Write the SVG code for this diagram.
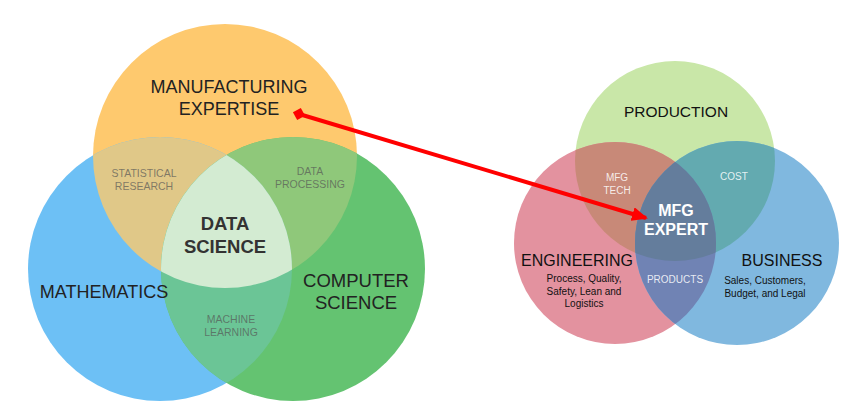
<svg xmlns="http://www.w3.org/2000/svg" width="857" height="414" viewBox="0 0 857 414">
<style>
text{font-family:"Liberation Sans",Arial,sans-serif;text-anchor:middle}
.big{font-size:18px;fill:#222}
.ds{font-size:18.5px;font-weight:bold;fill:#333}
.sm{font-size:10.5px;fill:#555;fill-opacity:0.7}
.rbig{font-size:16px;fill:#111}
.rsm{font-size:10px;fill:#111}
.rw{font-size:10px;fill:#fff;fill-opacity:0.85}
.rb{font-size:16px;font-weight:bold;fill:#fff}
</style>
<defs>
<clipPath id="cO"><circle cx="225" cy="156" r="132"/></clipPath>
<clipPath id="cB"><circle cx="160" cy="269" r="132"/></clipPath>
<clipPath id="cG"><circle cx="293" cy="269" r="132"/></clipPath>
<clipPath id="cP"><circle cx="675" cy="161" r="100"/></clipPath>
<clipPath id="cE"><circle cx="615" cy="243" r="101"/></clipPath>
<clipPath id="cU"><circle cx="737" cy="243" r="102"/></clipPath>
<marker id="ah" markerUnits="userSpaceOnUse" markerWidth="16" markerHeight="14" refX="14" refY="7" orient="auto">
<path d="M0,0 L16,7 L0,14 z" fill="#ff0000"/>
</marker>
<marker id="dm" markerUnits="userSpaceOnUse" markerWidth="12" markerHeight="12" refX="6" refY="6" orient="auto">
<rect x="1.5" y="1.5" width="9" height="9" fill="#ff0000" transform="rotate(45 6 6)"/>
</marker>
</defs>

<g id="left-venn">
<g id="manufacturing"><circle cx="225" cy="156" r="132" fill="#FEC96E"/></g>
<g id="mathematics"><circle cx="160" cy="269" r="132" fill="#6DC0F5"/></g>
<g id="computer-science"><circle cx="293" cy="269" r="132" fill="#64C371"/></g>
<g id="statistical-research"><circle cx="160" cy="269" r="132" fill="#E0C888" clip-path="url(#cO)"/></g>
<g id="data-processing"><circle cx="293" cy="269" r="132" fill="#8FC87A" clip-path="url(#cO)"/></g>
<g id="machine-learning"><circle cx="293" cy="269" r="132" fill="#6BC596" clip-path="url(#cB)"/></g>
<g id="data-science"><g clip-path="url(#cO)"><circle cx="293" cy="269" r="132" fill="#D3EBD2" clip-path="url(#cB)"/></g></g>
<text class="big" x="229" y="93">MANUFACTURING</text>
<text class="big" x="229" y="115">EXPERTISE</text>
<text class="sm" x="144" y="177">STATISTICAL</text>
<text class="sm" x="144" y="190">RESEARCH</text>
<text class="sm" x="310" y="175">DATA</text>
<text class="sm" x="310" y="188">PROCESSING</text>
<text class="ds" x="225" y="230">DATA</text>
<text class="ds" x="225" y="253">SCIENCE</text>
<text class="big" x="104" y="298">MATHEMATICS</text>
<text class="big" x="356" y="287" style="font-size:18.5px">COMPUTER</text>
<text class="big" x="356" y="309" style="font-size:18.5px">SCIENCE</text>
<text class="sm" x="231" y="323">MACHINE</text>
<text class="sm" x="231" y="336">LEARNING</text>
</g>

<g id="right-venn">
<g id="production"><circle cx="675" cy="161" r="100" fill="#C9E7A8"/></g>
<g id="engineering"><circle cx="615" cy="243" r="101" fill="#E3929F"/></g>
<g id="business"><circle cx="737" cy="243" r="102" fill="#80B8DF"/></g>
<g id="mfg-tech"><circle cx="615" cy="243" r="101" fill="#C88978" clip-path="url(#cP)"/></g>
<g id="cost"><circle cx="737" cy="243" r="102" fill="#63AAB0" clip-path="url(#cP)"/></g>
<g id="products"><circle cx="737" cy="243" r="102" fill="#7083B4" clip-path="url(#cE)"/></g>
<g id="mfg-expert"><g clip-path="url(#cP)"><circle cx="737" cy="243" r="102" fill="#647D9C" clip-path="url(#cE)"/></g></g>
<text class="rbig" x="676" y="117" style="font-size:15.5px">PRODUCTION</text>
<text class="rw" x="617" y="181">MFG</text>
<text class="rw" x="617" y="194">TECH</text>
<text class="rw" x="734" y="180">COST</text>
<text class="rb" x="676" y="216">MFG</text>
<text class="rb" x="676" y="235">EXPERT</text>
<text class="rbig" x="577" y="266">ENGINEERING</text>
<text class="rsm" x="584" y="282">Process, Quality,</text>
<text class="rsm" x="584" y="295">Safety, Lean and</text>
<text class="rsm" x="584" y="307">Logistics</text>
<text class="rw" x="675" y="283">PRODUCTS</text>
<text class="rbig" x="782" y="266">BUSINESS</text>
<text class="rsm" x="765" y="284">Sales, Customers,</text>
<text class="rsm" x="765" y="297">Budget, and Legal</text>
</g>

<g id="connectors">
<line x1="299" y1="114" x2="646" y2="218" stroke="#ff0000" stroke-width="4" marker-start="url(#dm)" marker-end="url(#ah)"/>
</g>
</svg>
